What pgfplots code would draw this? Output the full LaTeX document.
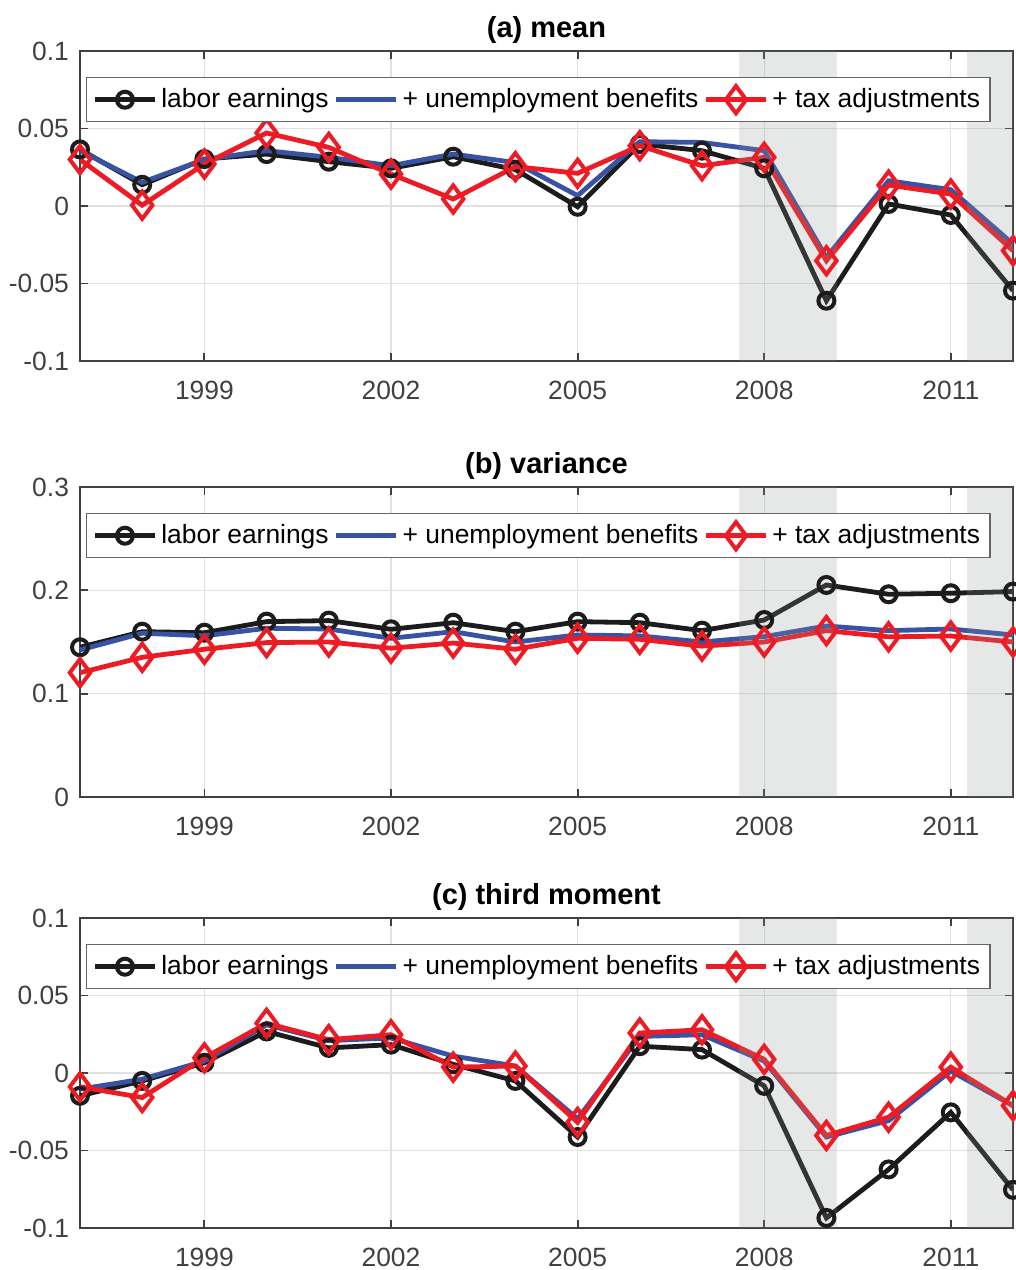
\documentclass[border=0pt]{standalone}
\usepackage{fontspec}
\setmainfont{Liberation Sans}
\usepackage{pgfplots}
\usepackage{pgfplotstable}
\pgfplotsset{compat=1.18}

\definecolor{cblack}{RGB}{28,28,28}
\definecolor{cblue}{RGB}{57,83,164}
\definecolor{cred}{RGB}{237,28,36}
\definecolor{axgray}{RGB}{64,64,64}
\definecolor{gridgray}{RGB}{225,225,225}
\definecolor{shade}{RGB}{140,150,150}

% columns: year, labor earnings, + unemployment benefits, + tax adjustments
\pgfplotstableread{
year  lab     ub      tax
1997  0.0365  0.0357  0.0300
1998  0.0137  0.0153  0.0005
1999  0.0303  0.0300  0.0271
2000  0.0335  0.0357  0.0471
2001  0.0286  0.0314  0.0378
2002  0.0243  0.0260  0.0206
2003  0.0318  0.0335  0.0045
2004  0.0235  0.0280  0.0254
2005  -0.0005 0.0067  0.0211
2006  0.0400  0.0415  0.0389
2007  0.0357  0.0410  0.0260
2008  0.0243  0.0357  0.0314
2009  -0.0611 -0.0331 -0.0353
2010  0.0013  0.0163  0.0135
2011  -0.0058 0.0105  0.0077
2012  -0.0546 -0.0245 -0.0288
}\meantab

\pgfplotstableread{
year  lab     ub      tax
1997  0.1449  0.1423  0.1203
1998  0.1600  0.1585  0.1352
1999  0.1590  0.1560  0.1430
2000  0.1697  0.1633  0.1494
2001  0.1707  0.1626  0.1500
2002  0.1623  0.1536  0.1440
2003  0.1687  0.1600  0.1490
2004  0.1600  0.1500  0.1430
2005  0.1697  0.1568  0.1536
2006  0.1687  0.1559  0.1526
2007  0.1610  0.1500  0.1460
2008  0.1713  0.1552  0.1500
2009  0.2052  0.1655  0.1610
2010  0.1962  0.1610  0.1550
2011  0.1972  0.1626  0.1558
2012  0.1988  0.1568  0.1500
}\vartab

\pgfplotstableread{
year  lab     ub      tax
1997  -0.0147 -0.0104 -0.0089
1998  -0.0051 -0.0040 -0.0158
1999  0.0066  0.0077  0.0098
2000  0.0268  0.0311  0.0321
2001  0.0162  0.0209  0.0215
2002  0.0183  0.0226  0.0247
2003  0.0056  0.0109  0.0038
2004  -0.0051 0.0045  0.0045
2005  -0.0413 -0.0296 -0.0318
2006  0.0173  0.0236  0.0258
2007  0.0151  0.0247  0.0279
2008  -0.0083 0.0077  0.0088
2009  -0.0935 -0.0413 -0.0403
2010  -0.0622 -0.0307 -0.0285
2011  -0.0254 0.0013  0.0038
2012  -0.0754 -0.0211 -0.0211
}\skewtab

\pgfplotsset{
  panel/.style={
    width=466.5pt, height=155pt, scale only axis,
    xmin=1997, xmax=2012,
    xtick={1999,2002,2005,2008,2011},
    xticklabels={1999,2002,2005,2008,2011},
    tick align=inside,
    major tick length=4pt,
    axis line style={axgray, line width=0.9pt},
    tick style={axgray, line width=0.9pt},
    ticklabel style={text=axgray, font=\fontsize{13.2}{15}\selectfont},
    xticklabel style={yshift=-6.5pt},
    yticklabel style={xshift=-2pt},
    grid=major,
    major grid style={gridgray, line width=0.6pt},
    title style={font=\bfseries\fontsize{14.5}{17}\selectfont, yshift=-6pt},
    legend columns=3,
    legend style={
      at={(0.0064,0.916)}, anchor=north west,
      draw=axgray!80, line width=0.6pt, fill=white,
      font=\fontsize{13.2}{15}\selectfont,
      inner xsep=3pt, inner ysep=3.5pt,
      /tikz/every even column/.append style={column sep=0.6pt},
    },
    legend cell align=left,
    legend image code/.code={
      \draw[mark repeat=2, mark phase=2, #1]
        plot coordinates {(0pt,0pt) (15pt,0pt) (30pt,0pt)};
    },
  },
  labline/.style={cblack, line width=2.4pt, mark=o, mark size=4pt,
    mark options={line width=2pt}},
  ubline/.style={cblue, line width=2.4pt, mark=none},
  taxline/.style={cred, line width=2.4pt, mark=diamond, mark size=6.8pt,
    mark options={line width=2pt}},
  recession/.style={fill=shade, fill opacity=0.22, draw=none, forget plot},
}

\begin{document}
\begin{tikzpicture}

% (a) mean
\begin{axis}[panel, at={(0pt,0pt)}, anchor=north west,
  ymin=-0.1, ymax=0.1,
  ytick={-0.1,-0.05,0,0.05,0.1},
  yticklabels={-0.1,-0.05,0,0.05,0.1},
  title={(a) mean}]
\addplot[labline] table[x=year, y=lab] {\meantab};
\addlegendentry{labor earnings}
\addplot[ubline] table[x=year, y=ub] {\meantab};
\addlegendentry{+ unemployment benefits}
\addplot[taxline] table[x=year, y=tax] {\meantab};
\addlegendentry{+ tax adjustments}
\addplot[recession] coordinates {(2007.6,-0.1) (2009.17,-0.1) (2009.17,0.1) (2007.6,0.1)} -- cycle;
\addplot[recession] coordinates {(2011.26,-0.1) (2012,-0.1) (2012,0.1) (2011.26,0.1)} -- cycle;
\end{axis}

% (b) variance
\begin{axis}[panel, at={(0pt,-218pt)}, anchor=north west,
  ymin=0, ymax=0.3,
  ytick={0,0.1,0.2,0.3},
  yticklabels={0,0.1,0.2,0.3},
  title={(b) variance}]
\addplot[labline] table[x=year, y=lab] {\vartab};
\addlegendentry{labor earnings}
\addplot[ubline] table[x=year, y=ub] {\vartab};
\addlegendentry{+ unemployment benefits}
\addplot[taxline] table[x=year, y=tax] {\vartab};
\addlegendentry{+ tax adjustments}
\addplot[recession] coordinates {(2007.6,0) (2009.17,0) (2009.17,0.3) (2007.6,0.3)} -- cycle;
\addplot[recession] coordinates {(2011.26,0) (2012,0) (2012,0.3) (2011.26,0.3)} -- cycle;
\end{axis}

% (c) third moment
\begin{axis}[panel, at={(0pt,-433.5pt)}, anchor=north west,
  ymin=-0.1, ymax=0.1,
  ytick={-0.1,-0.05,0,0.05,0.1},
  yticklabels={-0.1,-0.05,0,0.05,0.1},
  title={(c) third moment}]
\addplot[labline] table[x=year, y=lab] {\skewtab};
\addlegendentry{labor earnings}
\addplot[ubline] table[x=year, y=ub] {\skewtab};
\addlegendentry{+ unemployment benefits}
\addplot[taxline] table[x=year, y=tax] {\skewtab};
\addlegendentry{+ tax adjustments}
\addplot[recession] coordinates {(2007.6,-0.1) (2009.17,-0.1) (2009.17,0.1) (2007.6,0.1)} -- cycle;
\addplot[recession] coordinates {(2011.26,-0.1) (2012,-0.1) (2012,0.1) (2011.26,0.1)} -- cycle;
\end{axis}

\pgfresetboundingbox
\path[use as bounding box] (-40pt,25.5pt) rectangle (468pt,-609.5pt);
\end{tikzpicture}
\end{document}
